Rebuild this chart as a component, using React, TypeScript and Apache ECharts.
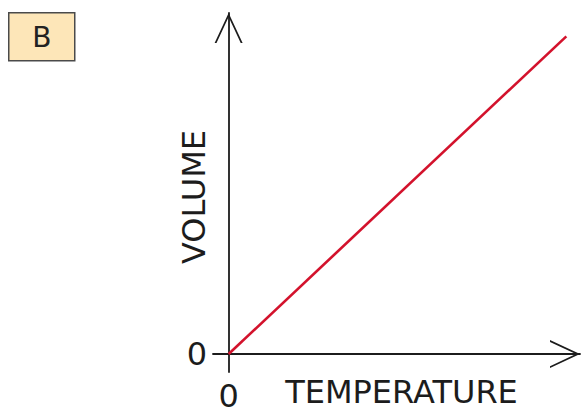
import React, { useEffect, useRef } from "react";
import * as echarts from "echarts";

const temperature = [0, 86.5];
const volume = [0, 88.5];
const xTickLabels = [0];
const yTickLabels = [0];
const xName = "TEMPERATURE";
const yName = "VOLUME";
const panelLabel = "B";

const chevron = "path://M14,0 L28,30 L26.1,30 L14,4.1 L1.9,30 L0,30 Z";
const ink = "#1c1c1c";
const font = "DejaVu Sans";

export default function App() {
  const ref = useRef<HTMLDivElement>(null);
  useEffect(() => {
    document.body.style.margin = "0";
    const chart = echarts.init(ref.current!, null, { renderer: "svg" });
    const data = temperature.map((t, i) => [t, volume[i]]);
    chart.setOption({
      animation: false,
      backgroundColor: "#ffffff",
      grid: { left: 213, right: 2, top: 13, bottom: 40, containLabel: false, outerBoundsMode: "none" },
      xAxis: {
        type: "value",
        min: -4,
        max: 90,
        name: xName,
        nameLocation: "middle",
        nameGap: 4,
        nameMoveOverlap: false,
        nameTextStyle: { color: ink, fontSize: 32, fontFamily: font, padding: [0, 0, 0, 10] },
        axisLine: {
          show: true,
          onZero: true,
          symbol: ["none", chevron],
          symbolSize: [28, 30],
          symbolOffset: [0, -15],
          lineStyle: { color: ink, width: 1.8 },
        },
        axisTick: { show: false },
        splitLine: { show: false },
        axisLabel: {
          customValues: xTickLabels,
          margin: 8,
          color: ink,
          fontSize: 32,
          fontFamily: font,
        },
      },
      yAxis: {
        type: "value",
        min: -5,
        max: 95,
        name: yName,
        nameLocation: "middle",
        nameGap: 3,
        nameMoveOverlap: false,
        nameTextStyle: { color: ink, fontSize: 32, fontFamily: font, padding: [0, 9, 0, 0] },
        axisLine: {
          show: true,
          onZero: true,
          symbol: ["none", chevron],
          symbolSize: [28, 30],
          symbolOffset: [0, -15],
          lineStyle: { color: ink, width: 1.8 },
        },
        axisTick: { show: false },
        splitLine: { show: false },
        axisLabel: {
          customValues: yTickLabels,
          margin: 6,
          color: ink,
          fontSize: 32,
          fontFamily: font,
        },
      },
      graphic: [
        {
          type: "group",
          left: 8,
          top: 12,
          children: [
            {
              type: "rect",
              shape: { x: 0, y: 0, width: 66, height: 48 },
              style: { fill: "#fde6b8", stroke: "#4a4a4a", lineWidth: 1.5 },
            },
            {
              type: "text",
              x: 33,
              y: 25,
              style: {
                text: panelLabel,
                fontSize: 28,
                fontFamily: font,
                fill: "#222222",
                align: "center",
                verticalAlign: "middle",
              },
            },
          ],
        },
      ],
      series: [
        {
          type: "line",
          data,
          symbol: "none",
          lineStyle: { color: "#d3122c", width: 2.6 },
          z: 5,
        },
      ],
    });
    return () => chart.dispose();
  }, []);
  return <div ref={ref} style={{ width: 582, height: 412 }} />;
}
